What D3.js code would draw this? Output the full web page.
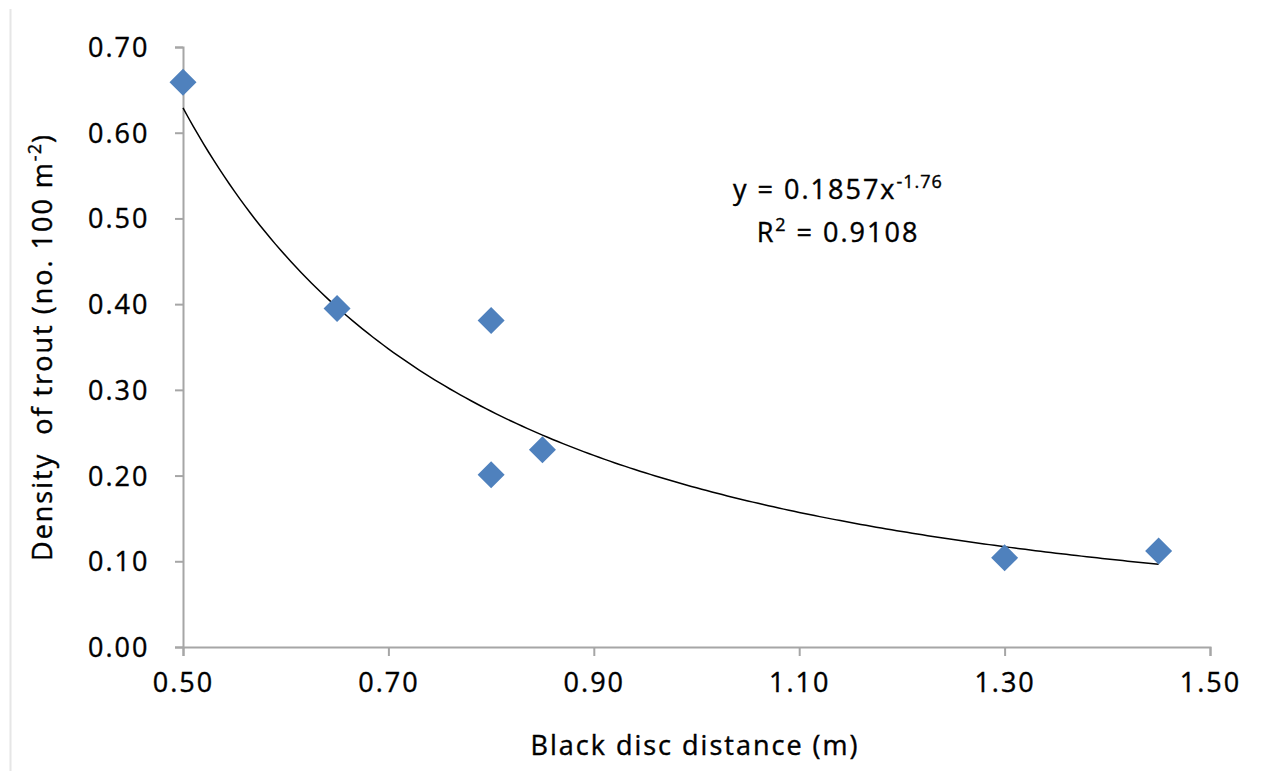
<!DOCTYPE html>
<html>
<head>
<meta charset="utf-8">
<script src="https://cdn.jsdelivr.net/npm/d3@7"></script>
<style>
  body { margin: 0; background: #fff; }
  text { font-family: "Open Sans", Lato, sans-serif; fill: #000; stroke: #000; stroke-width: 0.4px; letter-spacing: 2px; }
</style>
</head>
<body>
<svg class="svg" width="1272" height="771"></svg>
<script>
// données
const distance = [0.50, 0.65, 0.80, 0.80, 0.85, 1.30, 1.45];
const density = [0.659, 0.395, 0.381, 0.201, 0.230, 0.104, 0.112];
const xTicks = [0.50, 0.70, 0.90, 1.10, 1.30, 1.50];
const yTicks = [0.00, 0.10, 0.20, 0.30, 0.40, 0.50, 0.60, 0.70];
const fitA = 0.1857;
const fitB = -1.76;

const svg = d3.select(".svg");

const x = d3.scaleLinear().domain([0.5, 1.5]).range([183, 1210]);
const y = d3.scaleLinear().domain([0, 0.7]).range([647, 47]);

// faint frame line on the left
svg.append("line").attr("x1", 10.5).attr("x2", 10.5).attr("y1", 9).attr("y2", 771)
  .attr("stroke", "#e6e6e6").attr("stroke-width", 2);

// axes
const xAxis = svg.append("g").attr("transform", "translate(0,647)")
  .call(d3.axisBottom(x).tickValues(xTicks).tickFormat(d3.format(".2f")).tickSize(9).tickPadding(12));
const yAxis = svg.append("g").attr("transform", "translate(183,0)")
  .call(d3.axisLeft(y).tickValues(yTicks).tickFormat(d3.format(".2f")).tickSize(8).tickPadding(33));

[xAxis, yAxis].forEach(g => {
  g.select(".domain").attr("stroke", "#a6a6a6").attr("stroke-width", 2);
  g.selectAll(".tick line").attr("stroke", "#a6a6a6").attr("stroke-width", 2);
  g.selectAll(".tick text").style("font-size", "27px").style("font-family", "'Open Sans', sans-serif").attr("fill", "#000");
});
xAxis.selectAll(".tick text").attr("dy", "0.9em");
yAxis.selectAll(".tick text").attr("dy", "0.35em").attr("text-anchor", "start").attr("x", -95);

// courbe de tendance
const curvePts = d3.range(0.5, 1.4501, 0.005).map(v => [v, fitA * Math.pow(v, fitB)]);
svg.append("path")
  .datum(curvePts)
  .attr("fill", "none")
  .attr("stroke", "#000")
  .attr("stroke-width", 1.5)
  .attr("d", d3.line().x(d => x(d[0])).y(d => y(d[1])));

// points (losanges)
const pts = distance.map((d, i) => [d, density[i]]);
svg.selectAll(".pt")
  .data(pts)
  .enter()
  .append("path")
  .attr("class", "pt")
  .attr("transform", d => `translate(${x(d[0])},${y(d[1])})`)
  .attr("d", "M0,-13.5L13.5,0L0,13.5L-13.5,0Z")
  .attr("fill", "#4f81bd");

// équation
const eq = svg.append("text").attr("x", 838).attr("y", 199).attr("text-anchor", "middle").style("font-size", "27px");
eq.append("tspan").text("y = 0.1857x");
eq.append("tspan").text("-1.76").style("font-size", "18px").style("letter-spacing", "1px").attr("dy", -11);
const r2 = svg.append("text").attr("x", 838).attr("y", 242).attr("text-anchor", "middle").style("font-size", "27px");
r2.append("tspan").text("R");
r2.append("tspan").text("2").style("font-size", "18px").attr("dy", -11);
r2.append("tspan").text(" = 0.9108").attr("dy", 11);

// titres des axes
svg.append("text").attr("x", 695).attr("y", 755).attr("text-anchor", "middle")
  .style("font-size", "27px").text("Black disc distance (m)");

const yt = svg.append("text").attr("transform", "translate(52,347) rotate(-90)")
  .attr("text-anchor", "middle").style("font-size", "27px").style("white-space", "pre");
yt.append("tspan").text("Density  of trout (no. 100 m");
yt.append("tspan").text("-2").style("font-size", "18px").style("letter-spacing", "1px").attr("dy", -11);
yt.append("tspan").text(")").attr("dy", 11);
</script>
</body>
</html>
